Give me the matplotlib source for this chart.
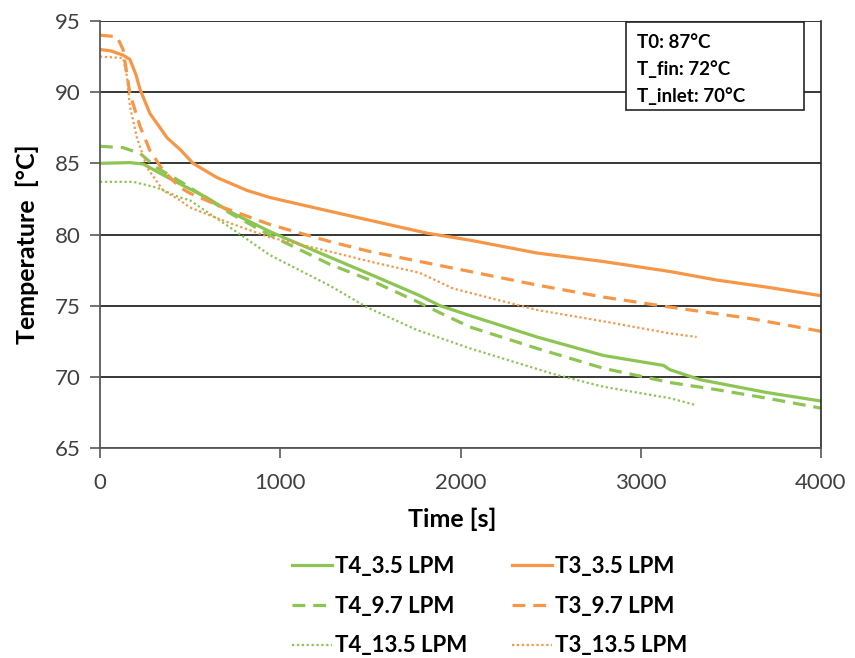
import matplotlib
matplotlib.use('Agg')
import matplotlib.pyplot as plt
from matplotlib.patches import Rectangle

plt.rcParams['font.family'] = ['Lato', 'DejaVu Sans']

GREEN = '#8CC552'
ORANGE = '#F79646'

# T4 series (green)
t_t4_35 = [0, 166, 240, 406, 591, 721, 943, 1276, 1500, 1775, 1886, 2053, 2424, 2793, 3126, 3162, 3329, 3698, 4000]
T_t4_35 = [85.0, 85.05, 84.95, 83.8, 82.6, 81.6, 80.2, 78.4, 77.2, 75.7, 75.0, 74.3, 72.8, 71.5, 70.8, 70.5, 69.8, 68.9, 68.3]

t_t4_97 = [0, 128, 222, 314, 462, 721, 943, 1276, 1498, 1757, 1886, 2053, 2424, 2793, 3162, 3421, 3700, 4000]
T_t4_97 = [86.2, 86.1, 85.7, 84.7, 83.6, 81.5, 79.95, 77.9, 76.8, 75.3, 74.5, 73.5, 72.0, 70.6, 69.6, 69.1, 68.5, 67.8]

t_t4_135 = [0, 185, 314, 444, 499, 721, 943, 1276, 1479, 1757, 2053, 2515, 2793, 3162, 3310]
T_t4_135 = [83.7, 83.7, 83.3, 82.6, 82.4, 80.5, 78.55, 76.4, 74.9, 73.3, 72.0, 70.2, 69.3, 68.5, 68.0]

# T3 series (orange)
t_t3_35 = [0, 60, 128, 166, 200, 222, 277, 372, 450, 516, 649, 815, 943, 1183, 1461, 1812, 2053, 2424, 2793, 3162, 3421, 3700, 4000]
T_t3_35 = [93.0, 92.9, 92.6, 92.3, 91.2, 90.2, 88.5, 86.8, 85.9, 85.0, 84.0, 83.1, 82.6, 81.9, 81.1, 80.1, 79.6, 78.7, 78.1, 77.4, 76.8, 76.3, 75.7]

t_t3_97 = [0, 94, 128, 166, 222, 277, 350, 444, 499, 682, 943, 1276, 1498, 1775, 2053, 2424, 2793, 3162, 3606, 4000]
T_t3_97 = [94.0, 93.9, 93.0, 89.9, 87.6, 85.9, 84.5, 83.3, 82.9, 81.9, 80.7, 79.5, 78.8, 78.1, 77.4, 76.45, 75.6, 74.9, 74.1, 73.2]

t_t3_135 = [0, 128, 150, 166, 205, 261, 350, 444, 499, 721, 943, 1276, 1498, 1775, 1960, 2053, 2424, 2793, 3162, 3310]
T_t3_135 = [92.5, 92.4, 91.1, 89.0, 86.8, 84.7, 83.1, 82.4, 81.9, 80.8, 79.8, 78.8, 78.1, 77.3, 76.2, 75.9, 74.7, 73.9, 73.05, 72.8]

info_lines = ['T0: 87\u00b0C', 'T_fin: 72\u00b0C', 'T_inlet: 70\u00b0C']

fig = plt.figure(figsize=(8.55, 6.58), dpi=100)
ax = fig.add_axes([100/855, 1 - 448/658, 721/855, 427/658])

solid_w = 2.3
ax.plot(t_t4_35, T_t4_35, color=GREEN, lw=solid_w, label='T4_3.5 LPM')
ax.plot(t_t4_97, T_t4_97, color=GREEN, lw=solid_w, dashes=(4, 2.5), label='T4_9.7 LPM')
ax.plot(t_t4_135, T_t4_135, color=GREEN, lw=1.6, dashes=(1, 1.2), label='T4_13.5 LPM')
ax.plot(t_t3_35, T_t3_35, color=ORANGE, lw=solid_w, label='T3_3.5 LPM')
ax.plot(t_t3_97, T_t3_97, color=ORANGE, lw=solid_w, dashes=(4, 2.5), label='T3_9.7 LPM')
ax.plot(t_t3_135, T_t3_135, color=ORANGE, lw=1.6, dashes=(1, 1.2), label='T3_13.5 LPM')

ax.set_xlim(0, 4000)
ax.set_ylim(65, 95)
ax.set_xticks([0, 1000, 2000, 3000, 4000])
ax.set_yticks([65, 70, 75, 80, 85, 90, 95])
ax.yaxis.grid(True, color='black', lw=1.1)
ax.set_axisbelow(True)

for s in ['left', 'bottom']:
    ax.spines[s].set_color('#595959')
    ax.spines[s].set_linewidth(1.3)
ax.spines['right'].set_color('#262626')
ax.spines['right'].set_linewidth(1.2)
ax.spines['top'].set_visible(False)
ax.tick_params(axis='both', direction='out', length=7, width=1.2, color='#595959',
               labelsize=16, labelcolor='#404040')
ax.tick_params(axis='y', pad=7)
ax.tick_params(axis='x', pad=11)

ax.set_xlabel('Time [s]', fontsize=18, fontweight='bold')
ax.xaxis.set_label_coords((452 - 100)/721, -(508 - 448)/427)
ax.set_ylabel('Temperature  [\u00b0C]', fontsize=18, fontweight='bold')
ax.yaxis.set_label_coords(-(100 - 39)/721, 0.477)

# info box
box = Rectangle((526/721, 338/427), 178/721, 88/427, transform=ax.transAxes,
                facecolor='white', edgecolor='#262626', lw=1.2, zorder=5)
ax.add_patch(box)
for i, line in enumerate(info_lines):
    ax.text(537/721, (448 - 42 - i*27)/427, line, transform=ax.transAxes,
            fontsize=13.5, fontweight='bold', va='center', ha='left', zorder=6)

handles, labels = ax.get_legend_handles_labels()
leg = fig.legend(handles, labels, ncol=2, loc='upper left',
                 bbox_to_anchor=(272/855, 1 - 536/658), frameon=False,
                 prop={'size': 16, 'weight': 'bold'}, handlelength=1.8,
                 handletextpad=0.15, columnspacing=2.0, labelspacing=0.84)

fig.savefig('out.png', dpi=100)
